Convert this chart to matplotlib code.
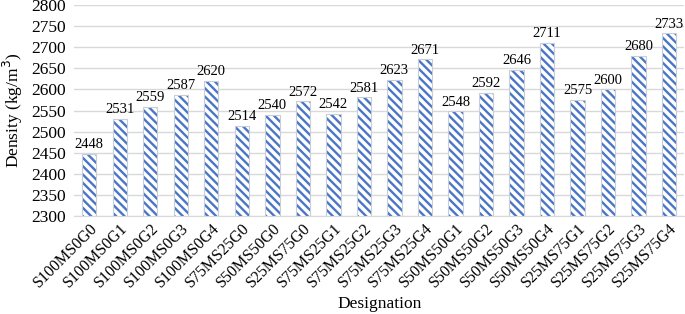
import matplotlib
matplotlib.use('Agg')
import matplotlib.pyplot as plt

designations = ['S100MS0G0', 'S100MS0G1', 'S100MS0G2', 'S100MS0G3', 'S100MS0G4',
                'S75MS25G0', 'S50MS50G0', 'S25MS75G0', 'S75MS25G1', 'S75MS25G2',
                'S75MS25G3', 'S75MS25G4', 'S50MS50G1', 'S50MS50G2', 'S50MS50G3',
                'S50MS50G4', 'S25MS75G1', 'S25MS75G2', 'S25MS75G3', 'S25MS75G4']
density = [2448, 2531, 2559, 2587, 2620, 2514, 2540, 2572, 2542, 2581,
           2623, 2671, 2548, 2592, 2646, 2711, 2575, 2600, 2680, 2733]

plt.rcParams['font.family'] = 'Liberation Serif'
plt.rcParams['hatch.linewidth'] = 1.7

fig = plt.figure(figsize=(6.85, 3.14), dpi=100)
ax = fig.add_axes([0.108, 0.312, 0.891, 0.672])

x = list(range(len(designations)))
# hatched fill
ax.bar(x, density, width=0.47, color='white', edgecolor='#4a76c6',
       linewidth=0, hatch='\\\\\\\\', zorder=2)
# faint outline like the shaded edge in the original
ax.bar(x, density, width=0.47, fill=False, edgecolor='#c8cdd6',
       linewidth=0.8, zorder=3)

for i, v in enumerate(density):
    ax.text(i, v + 6, str(v), ha='center', va='bottom', fontsize=10.5)

ax.set_ylim(2300, 2800)
ax.set_yticks(range(2300, 2801, 50))
ax.set_xlim(-0.5, len(designations) - 0.5)
ax.set_xticks(x)
ax.set_xticklabels(designations, rotation=45, ha='right', rotation_mode='anchor', fontsize=11.5)
ax.tick_params(axis='y', labelsize=12.5, length=0, pad=6)
ax.tick_params(axis='x', length=0, pad=3)
ax.grid(axis='y', color='#d9d9d9', linewidth=1, zorder=0)
for s in ['top', 'right', 'left']:
    ax.spines[s].set_visible(False)
ax.spines['bottom'].set_color('#d9d9d9')

ax.set_ylabel('Density (kg/m$^3$)', fontsize=12.5, labelpad=4)
ax.set_xlabel('Designation', fontsize=12.5, labelpad=4)

plt.savefig('out.png', dpi=100)
